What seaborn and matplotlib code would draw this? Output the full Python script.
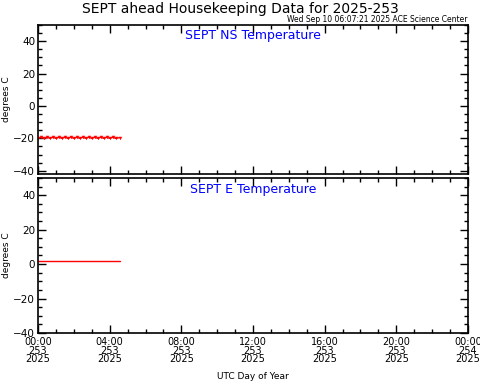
import numpy as np
import pandas as pd
import matplotlib
matplotlib.use("Agg")
import matplotlib.pyplot as plt
import seaborn as sns

# hours since 00:00 UTC, day 253
hours = [0.00, 0.17, 0.33, 0.50, 0.67, 0.83, 1.00, 1.17, 1.33, 1.50, 1.67, 1.83,
         2.00, 2.17, 2.33, 2.50, 2.67, 2.83, 3.00, 3.17, 3.33, 3.50, 3.67, 3.83,
         4.00, 4.17, 4.33, 4.58]
ns_temp = [-20.0, -19.3, -20.0, -19.3, -20.0, -19.3, -20.0, -19.3, -20.0, -19.3, -20.0, -19.3,
           -20.0, -19.3, -20.0, -19.3, -20.0, -19.3, -20.0, -19.3, -20.0, -19.3, -20.0, -19.3,
           -20.0, -19.3, -20.0, -19.5]
e_temp = [2.0, 2.0, 2.0, 2.0, 2.0, 2.0, 2.0, 2.0, 2.0, 2.0, 2.0, 2.0,
          2.0, 2.0, 2.0, 2.0, 2.0, 2.0, 2.0, 2.0, 2.0, 2.0, 2.0, 2.0,
          2.0, 2.0, 2.0, 2.0]
tick_hours = [0, 4, 8, 12, 16, 20, 24]
tick_labels = ["00:00\n253\n2025", "04:00\n253\n2025", "08:00\n253\n2025", "12:00\n253\n2025",
               "16:00\n253\n2025", "20:00\n253\n2025", "00:00\n254\n2025"]

df = pd.DataFrame({"hour": hours, "ns": ns_temp, "e": e_temp})

sns.set_style("ticks", {"axes.edgecolor": "black", "xtick.color": "black",
                        "ytick.color": "black", "text.color": "black",
                        "axes.labelcolor": "black"})
plt.rcParams['font.family'] = ['DejaVu Sans']

fig = plt.figure(figsize=(4.81, 3.82), dpi=100)
W, H = 481, 382
left, right = 38 / W, 468 / W
ax1 = fig.add_axes([left, 1 - 174 / H, right - left, 149 / H])
ax2 = fig.add_axes([left, 1 - 333 / H, right - left, 155 / H])

sns.lineplot(data=df, x="hour", y="ns", ax=ax1, color="red", lw=1.0,
             marker="v", markersize=2.5, markeredgewidth=0)
sns.lineplot(data=df, x="hour", y="e", ax=ax2, color="red", lw=1.0)

for ax, lbl, ylim in [(ax1, "SEPT NS Temperature", (-42, 50)), (ax2, "SEPT E Temperature", (-40, 50))]:
    ax.set_xlim(0, 24)
    ax.set_ylim(*ylim)
    ax.set_yticks([-40, -20, 0, 20, 40])
    ax.set_yticks(np.arange(-40, 51, 5), minor=True)
    ax.set_xticks(tick_hours)
    ax.set_xticks(range(0, 25), minor=True)
    ax.tick_params(which="both", direction="in", top=True, right=True, labelsize=7.5,
                   width=1.0, pad=2, color="black", labelcolor="black")
    ax.tick_params(which="major", length=6)
    ax.tick_params(which="minor", length=3)
    for s in ax.spines.values():
        s.set_linewidth(1.2)
        s.set_color("black")
    ax.set_ylabel("degrees C", fontsize=6.5, color="black")
    ax.set_xlabel("")
    ax.text(0.5, 0.97, lbl, transform=ax.transAxes, ha="center", va="top",
            color="blue", fontsize=9)

ax1.set_xticklabels([])
ax2.set_xticklabels(tick_labels, fontsize=7, linespacing=0.8)
ax2.tick_params(axis="x", which="major", pad=3)
ax2.set_xlabel("UTC Day of Year", fontsize=6.5, labelpad=6, color="black")
ax1.yaxis.set_label_coords(-0.062, 0.5)
ax2.yaxis.set_label_coords(-0.062, 0.5)

fig.text(0.5, 1 - 9 / H, "SEPT ahead Housekeeping Data for 2025-253", ha="center",
         va="center", fontsize=10, color="black")
fig.text(right, 1 - 20 / H, "Wed Sep 10 06:07:21 2025 ACE Science Center", ha="right",
         va="center", fontsize=5.5, color="black")

fig.savefig("out.png", dpi=100)
